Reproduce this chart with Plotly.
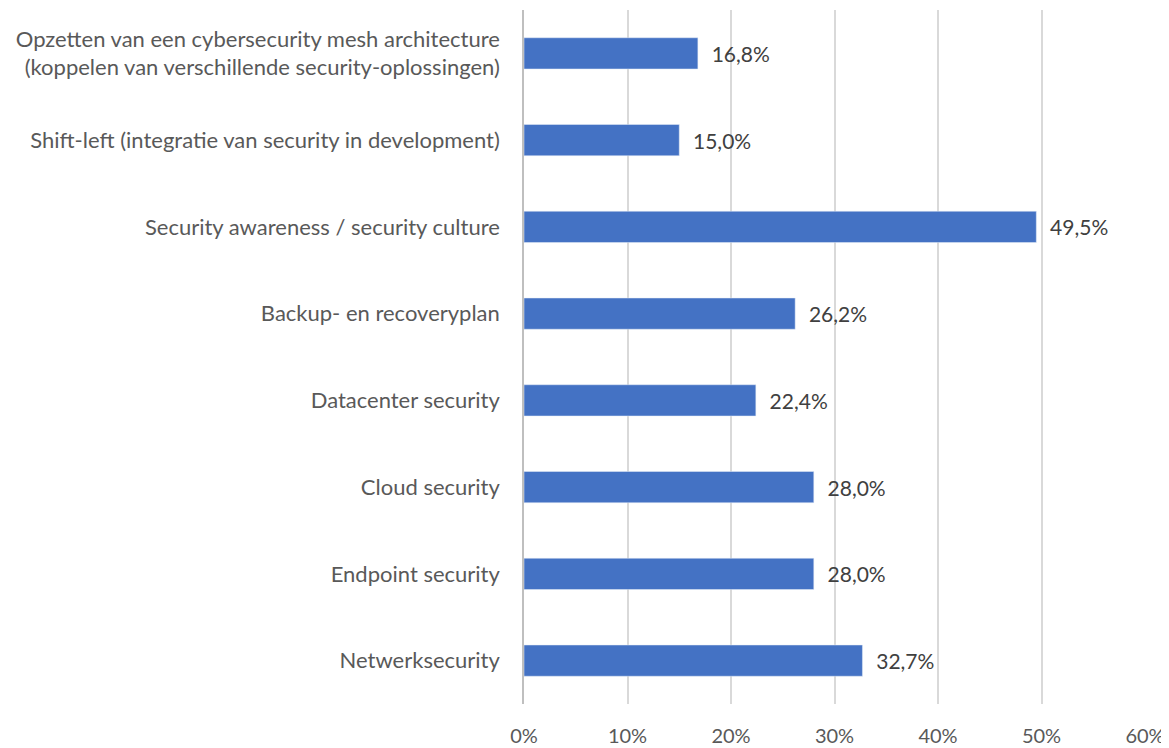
import plotly.graph_objects as go

categories = [
    "Netwerksecurity",
    "Endpoint security",
    "Cloud security",
    "Datacenter security",
    "Backup- en recoveryplan",
    "Security awareness / security culture",
    "Shift-left (integratie van security in development)",
    "Opzetten van een cybersecurity mesh architecture<br>(koppelen van verschillende security-oplossingen)",
]
values = [32.7, 28.0, 28.0, 22.4, 26.2, 49.5, 15.0, 16.8]
tick_vals = [0, 10, 20, 30, 40, 50, 60]
tick_text = ["0%", "10%", "20%", "30%", "40%", "50%", "60%"]

font_family = "Lato, Open Sans, sans-serif"
fs = 21

fig = go.Figure(
    go.Bar(
        y=categories,
        x=values,
        orientation="h",
        marker=dict(color="#4472C4"),
        width=0.36,
        texttemplate="  %{x:.1f}%",
        textposition="outside",
        textfont=dict(size=fs, color="#404040", family=font_family),
        cliponaxis=False,
    )
)

fig.update_layout(
    width=1169,
    height=748,
    margin=dict(l=516, r=32, t=2, b=52),
    plot_bgcolor="white",
    paper_bgcolor="white",
    separators=",.",
    showlegend=False,
    font=dict(family=font_family, size=fs, color="#595959"),
)
fig.update_xaxes(
    range=[0, 60],
    tickvals=tick_vals,
    ticktext=tick_text,
    showgrid=True,
    gridcolor="#D9D9D9",
    gridwidth=1.5,
    zeroline=False,
    showline=False,
    tickfont=dict(size=20, color="#595959"),
    ticklabelstandoff=18,
)
fig.update_yaxes(
    showline=True,
    linecolor="#BFBFBF",
    linewidth=1.5,
    showgrid=False,
    tickfont=dict(size=22, color="#595959"),
    ticklabelstandoff=18,
    range=[-0.5, 7.5],
)

fig.write_html("out.html")
